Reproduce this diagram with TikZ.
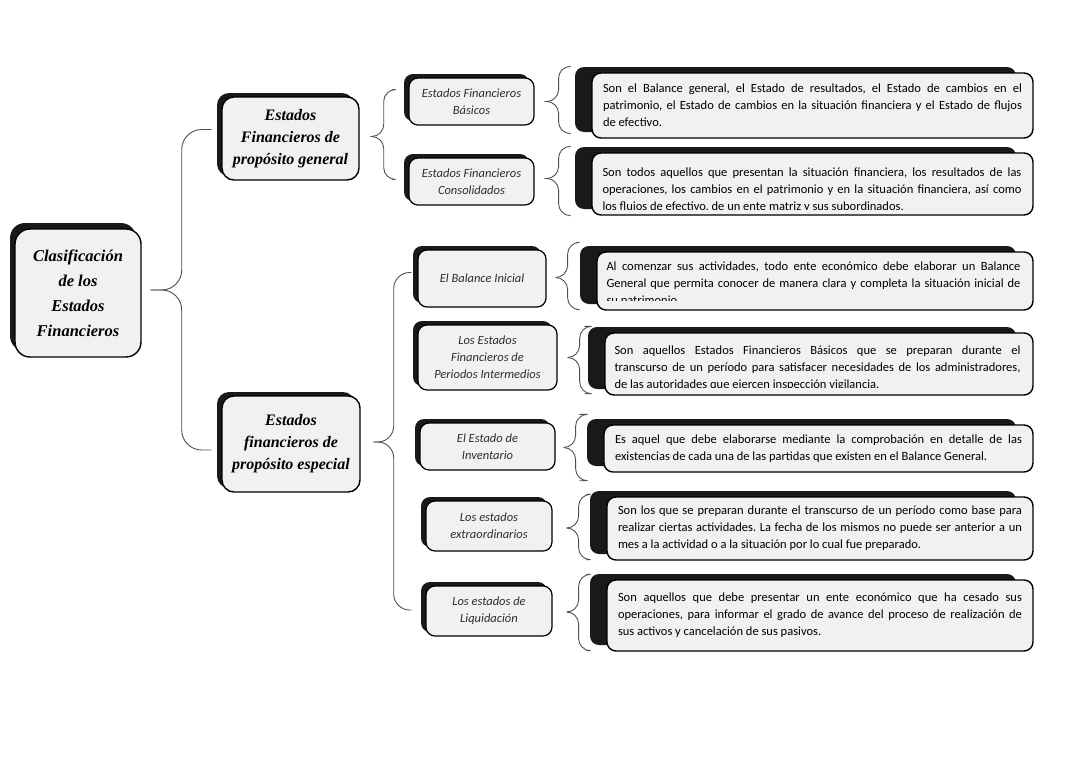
\documentclass[tikz,border=0pt]{standalone}
\usepackage{fontspec}
\setmainfont{Carlito}
\newfontfamily\headfont{Liberation Serif}
\usetikzlibrary{positioning,calc,shadows}
\definecolor{boxgray}{HTML}{F1F1F1}
\definecolor{bracegray}{HTML}{505050}
\definecolor{typegray}{HTML}{2E2E2E}
\frenchspacing

% curly bracket: tip, run to the spine, upper end, lower end
\newcommand{\curly}[5][]{%
  \draw[bracket,#1] (#2) -- ++(#3,0) |- (#4);
  \draw[bracket,#1] (#2) -- ++(#3,0) |- (#5);}

\begin{document}
\begin{tikzpicture}[x=1pt,y=-1pt,
    box/.style={draw=black, line width=1.4pt, fill=boxgray, rounded corners=9pt, inner sep=0pt, align=center},
    rootbox/.style={box, rounded corners=15pt, minimum width=126pt, minimum height=128pt,
      font={\headfont\bfseries\itshape\fontsize{16.5}{25}\selectfont},
      general shadow={shadow xshift=-5pt, shadow yshift=6pt, fill=black!90}},
    headbox/.style={box, rounded corners=12pt, font={\headfont\bfseries\itshape\fontsize{16}{22}\selectfont},
      general shadow={shadow xshift=-5pt, shadow yshift=4pt, fill=black!90}},
    typebox/.style={box, line width=1.2pt, text=typegray, font={\itshape\fontsize{12.5}{17}\selectfont},
      general shadow={shadow xshift=-5pt, shadow yshift=4pt, fill=black!90}},
    descbox/.style={box, align=justify, inner xsep=11pt, font={\fontsize{12.5}{17}\selectfont},
      general shadow={shadow xshift=-17pt, shadow yshift=6pt, fill=black!90}},
    desctext/.style={inner sep=0pt, align=justify, anchor=north west, font={\fontsize{12.5}{17}\selectfont}},
    bracket/.style={draw=bracegray, line width=0.9pt, rounded corners=12pt}]
  \useasboundingbox (0,0) rectangle (1080,763);

  \node[rootbox] (root) at (78,293) {Clasificación\\de los\\Estados\\Financieros};

  \node[headbox, minimum width=137pt, minimum height=83pt] (gen) at (290.5,138.5) {Estados\\Financieros de\\propósito general};
  \node[headbox, minimum width=138pt, minimum height=96pt] (esp) at (291,444) {Estados\\financieros de\\propósito especial};

  \node[typebox, minimum width=125pt, minimum height=47pt] (bas) at (471.5,101.5) {Estados Financieros\\Básicos};
  \node[typebox, minimum width=125pt, minimum height=47pt] (con) at (471.5,181.5) {Estados Financieros\\Consolidados};
  \node[typebox, minimum width=128pt, minimum height=57pt] (bal) at (482,278.5) {El Balance Inicial};
  \node[typebox, minimum width=139pt, minimum height=65pt] (int) at (487.5,357.5) {Los Estados\\Financieros de\\Periodos Intermedios};
  \node[typebox, minimum width=135pt, minimum height=47pt] (inv) at (487.5,446.5) {El Estado de\\Inventario};
  \node[typebox, minimum width=126pt, minimum height=50pt] (ext) at (489,526) {Los estados\\extraordinarios};
  \node[typebox, minimum width=126pt, minimum height=50pt] (liq) at (489,611) {Los estados de\\Liquidación};

  \node[descbox, minimum width=441pt, minimum height=65pt, text width=419pt] (dbas) at (812.5,105.5)
    {Son el Balance general, el Estado de resultados, el Estado de cambios en el\linebreak
     patrimonio, el Estado de cambios en la situación financiera y el Estado de flujos\linebreak
     de efectivo.};
  \node[descbox, minimum width=441pt, minimum height=62pt] (dcon) at (812.5,184) {};
  \begin{scope}
    \clip ($(dcon.north west)+(2,2)$) rectangle ($(dcon.south east)+(-2,-6.5)$);
    \node[desctext, text width=419pt] (dcont) at ($(dcon.north west)+(11,15.5)$)
      {Son todos aquellos que presentan la situación financiera, los resultados de las\linebreak
       operaciones, los cambios en el patrimonio y en la situación financiera, así como\linebreak
       los flujos de efectivo, de un ente matriz y sus subordinados.};
  \end{scope}
  \node[descbox, minimum width=436pt, minimum height=58pt] (dbal) at (815,281) {};
  \begin{scope}
    \clip ($(dbal.north west)+(2,2)$) rectangle ($(dbal.south east)+(-2,-10)$);
    \node[desctext, text width=414pt] (dbalt) at ($(dbal.north west)+(10,10.5)$)
      {Al comenzar sus actividades, todo ente económico debe elaborar un Balance\linebreak
       General que permita conocer de manera clara y completa la situación inicial de\linebreak
       su patrimonio.};
  \end{scope}
  \node[descbox, minimum width=428pt, minimum height=62pt] (dint) at (819,364) {};
  \begin{scope}
    \clip ($(dint.north west)+(2,2)$) rectangle ($(dint.south east)+(-2,-8)$);
    \node[desctext, text width=406pt] (dintt) at ($(dint.north west)+(10,13.5)$)
      {Son aquellos Estados Financieros Básicos que se preparan durante el\linebreak
       transcurso de un período para satisfacer necesidades de los administradores,\linebreak
       de las autoridades que ejercen inspección vigilancia.};
  \end{scope}
  \node[descbox, minimum width=429pt, minimum height=47pt, text width=407pt] (dinv) at (818.5,448.5)
    {Es aquel que debe elaborarse mediante la comprobación en detalle de las\linebreak
     existencias de cada una de las partidas que existen en el Balance General.};
  \node[descbox, minimum width=426pt, minimum height=63pt, text width=404pt] (dext) at (820,528.5)
    {Son los que se preparan durante el transcurso de un período como base para\linebreak
     realizar ciertas actividades. La fecha de los mismos no puede ser anterior a un\linebreak
     mes a la actividad o a la situación por lo cual fue preparado.};
  \node[descbox, minimum width=426pt, minimum height=71pt, text width=404pt] (dliq) at (820,615.5)
    {Son aquellos que debe presentar un ente económico que ha cesado sus\linebreak
     operaciones, para informar el grado de avance del proceso de realización de\linebreak
     sus activos y cancelación de sus pasivos.};

  % brackets
  \curly[rounded corners=20pt]{$(root.east)+(9,-3)$}{31}{$(gen.west)+(-10,-9)$}{$(esp.west)+(-10,6)$}
  \curly{$(gen.east)+(11,-2)$}{13}{$(bas.west)+(-16,-12)$}{$(con.west)+(-16,-2)$}
  \curly[rounded corners=16pt]{$(esp.east)+(13,-2)$}{20}{$(bal.west)+(-6,-6)$}{$(liq.west)+(-14,-1)$}
  \curly{$(bas.east)+(10,0)$}{14}{$(dbas.north west)+(-22,-6)$}{$(dbas.south west)+(-22,-5)$}
  \curly{$(con.east)+(10,-3)$}{14}{$(dcon.north west)+(-22,-6)$}{$(dcon.south west)+(-22,0)$}
  \curly{$(bal.east)+(9,-1)$}{12}{$(dbal.north west)+(-20,-9)$}{$(dbal.south west)+(-20,-1)$}
  \curly{$(int.east)+(10,0)$}{12}{$(dint.north west)+(-20,-6)$}{$(dint.south west)+(-20,-2)$}
  \curly{$(inv.east)+(8,1)$}{12}{$(dinv.north west)+(-24,-10)$}{$(dinv.south west)+(-24,8)$}
  \curly{$(ext.east)+(14,2)$}{12}{$(dext.north west)+(-20,-2)$}{$(dext.south west)+(-20,-1)$}
  \curly{$(liq.east)+(14,1)$}{12}{$(dliq.north west)+(-20,-5)$}{$(dliq.south west)+(-20,-1)$}
\end{tikzpicture}
\end{document}
